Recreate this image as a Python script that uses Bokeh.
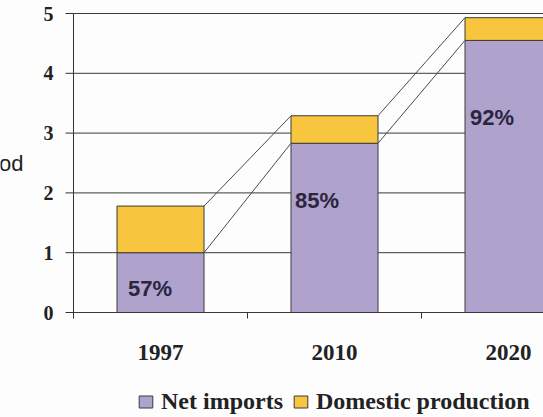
from bokeh.plotting import figure
from bokeh.models import (Range1d, Legend, LegendItem, Label, ColumnDataSource)
from bokeh.core.properties import value
from bokeh.embed import file_html
from bokeh.resources import INLINE

# ---- data ----
years = ["1997", "2010", "2020"]
net_imports = [1.0, 2.83, 4.55]
domestic = [0.78, 0.46, 0.38]
pct_labels = ["57%", "85%", "92%"]
y_ticks = [0, 1, 2, 3, 4, 5]
y_tick_labels = ["0", "1", "2", "3", "4", "5"]
y_title = "od"

# ---- layout helpers (positions / styles) ----
positions = [0.5, 1.5, 2.5]
boundaries = [1, 2]
bar_w = 0.5
label_y = [0.40, 1.87, 3.26]
label_dx = [11, 4, 5]

totals = [a + b for a, b in zip(net_imports, domestic)]

H, W = 417, 543
left_px = 73                         # pixel column of x = 0 (value axis)
top_px, zero_px = 13, 312            # pixel rows of y = 5 and y = 0
xppu = 174.0                         # pixels per category
yppu = (zero_px - top_px) / 5.0      # pixels per y unit
x_start = -left_px / xppu
x_end = (W - left_px) / xppu
y_top = 5 + top_px / yppu
y_bottom = -(H - zero_px) / yppu

p = figure(width=W, height=H, output_backend="svg", toolbar_location=None,
           x_range=Range1d(x_start, x_end), y_range=Range1d(y_bottom, y_top),
           x_axis_location=None, y_axis_location=None,
           min_border_left=0, min_border_right=0, min_border_top=0,
           min_border_bottom=0)
p.outline_line_color = None
p.background_fill_color = "#fdfdfd"
p.border_fill_color = "#fdfdfd"
p.xgrid.visible = False
p.ygrid.visible = False

# horizontal grid lines (incl. category axis line at 0)
p.segment(x0=[0] * len(y_ticks), y0=y_ticks, x1=[x_end] * len(y_ticks),
          y1=y_ticks, line_color="#3a3a3a", line_width=1)

# bars
src = ColumnDataSource(dict(x=positions, imports=net_imports, domestic=domestic))
r = p.vbar_stack(["imports", "domestic"], x="x", width=bar_w, source=src,
                 fill_color=["#AFA2CD", "#F8C53F"], line_color="#3a3a3a",
                 line_width=1)

# series lines
x0 = [positions[i] + bar_w / 2 for i in range(len(positions) - 1)]
x1 = [positions[i + 1] - bar_w / 2 for i in range(len(positions) - 1)]
for series in (net_imports, totals):
    p.segment(x0=x0, y0=series[:-1], x1=x1, y1=series[1:],
              line_color="#4a4a4a", line_width=1)

# percent labels
p.text(x=[c - bar_w / 2 for c in positions], y=label_y, text=pct_labels,
       x_offset=label_dx, text_font=value("Liberation Sans"),
       text_font_style="bold", text_font_size="22px", text_color="#2b2540",
       text_baseline="middle", text_align="left")

# category axis: tick marks at boundaries + year labels
p.segment(x0=boundaries, y0=[0] * len(boundaries), x1=boundaries,
          y1=[-6 / yppu] * len(boundaries), line_color="#333333", line_width=1)
p.text(x=positions, y=[-40 / yppu] * len(positions), text=years,
       text_font=value("Liberation Serif"), text_font_style="bold",
       text_font_size="23px", text_color="#222222",
       text_align="center", text_baseline="middle")

# value axis: line, tick marks, labels
p.segment(x0=[0], y0=[-6 / yppu], x1=[0], y1=[5],
          line_color="#333333", line_width=1)
p.segment(x0=[-8 / xppu] * len(y_ticks), y0=y_ticks, x1=[0] * len(y_ticks),
          y1=y_ticks, line_color="#333333", line_width=1)
p.text(x=[0] * len(y_ticks), y=y_ticks, text=y_tick_labels, x_offset=-20,
       text_font=value("Liberation Serif"), text_font_style="bold",
       text_font_size="20px", text_color="#222222",
       text_align="right", text_baseline="middle")

# partially cut value-axis title
p.add_layout(Label(x=x_start, y=(zero_px - 163) / yppu, x_offset=23,
                   text=y_title, text_align="right", text_baseline="middle",
                   text_font="Liberation Sans", text_font_size="22px",
                   text_color="#222222"))

# legend
legend = Legend(items=[LegendItem(label="Net imports", renderers=[r[0]]),
                       LegendItem(label="Domestic production", renderers=[r[1]])],
                orientation="horizontal", location=(137, 2),
                glyph_width=17, glyph_height=15,
                label_text_font="Liberation Serif", label_text_font_style="bold",
                label_text_font_size="24px", label_text_color="#222222",
                padding=0, spacing=9, label_standoff=7, margin=0,
                border_line_color=None, background_fill_alpha=0)
p.add_layout(legend)

open("out.html", "w").write(file_html(p, INLINE))
